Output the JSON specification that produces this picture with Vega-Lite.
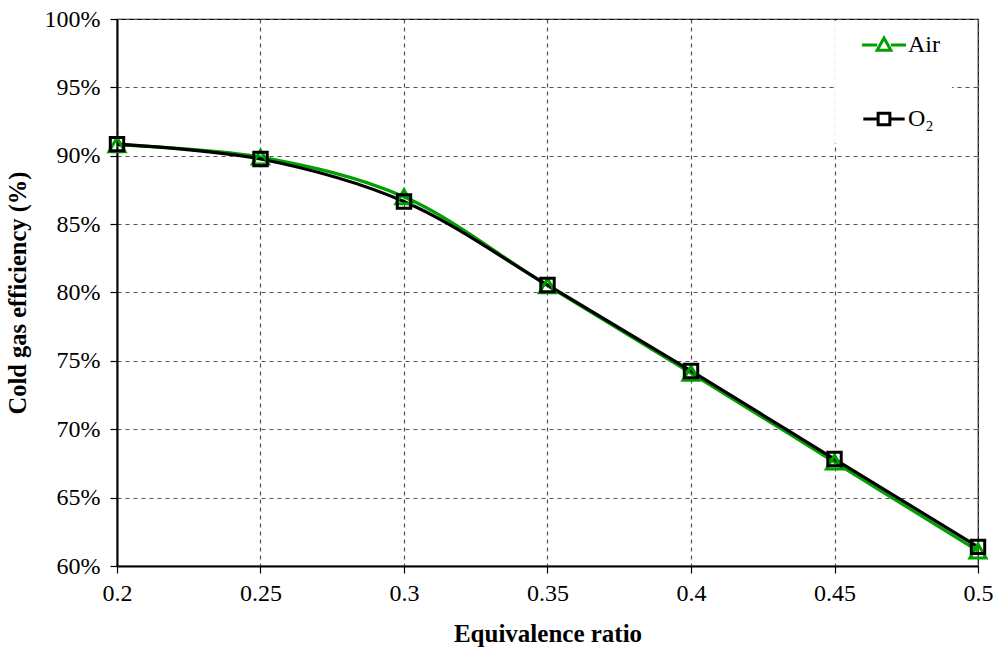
{
  "$schema": "https://vega.github.io/schema/vega-lite/v6.json",
  "width": 861,
  "height": 547,
  "autosize": {"type": "none"},
  "padding": {"left": 117, "top": 19, "right": 17, "bottom": 84},
  "background": "white",
  "config": {
    "font": "Liberation Serif",
    "view": {"stroke": "black", "strokeWidth": 1.2},
    "axis": {
      "labelFont": "Liberation Serif",
      "labelFontSize": 24,
      "labelColor": "black",
      "labelFlush": false,
      "titleFont": "Liberation Serif",
      "titleFontWeight": "bold",
      "titleColor": "black",
      "domainColor": "black",
      "domainWidth": 2,
      "tickColor": "black",
      "tickWidth": 1.2,
      "tickSize": 7,
      "gridColor": "#555555",
      "gridDash": [4, 4],
      "gridWidth": 1.2
    }
  },
  "data": {
    "values": [
      {"ratio": 0.2, "series": "Air", "eff": 0.908},
      {"ratio": 0.25, "series": "Air", "eff": 0.899},
      {"ratio": 0.3, "series": "Air", "eff": 0.870},
      {"ratio": 0.35, "series": "Air", "eff": 0.805},
      {"ratio": 0.4, "series": "Air", "eff": 0.741},
      {"ratio": 0.45, "series": "Air", "eff": 0.676},
      {"ratio": 0.5, "series": "Air", "eff": 0.611},
      {"ratio": 0.2, "series": "O₂", "eff": 0.9085},
      {"ratio": 0.25, "series": "O₂", "eff": 0.8976},
      {"ratio": 0.3, "series": "O₂", "eff": 0.8665},
      {"ratio": 0.35, "series": "O₂", "eff": 0.8055},
      {"ratio": 0.4, "series": "O₂", "eff": 0.7426},
      {"ratio": 0.45, "series": "O₂", "eff": 0.6782},
      {"ratio": 0.5, "series": "O₂", "eff": 0.614}
    ]
  },
  "encoding": {
    "x": {
      "field": "ratio",
      "type": "quantitative",
      "scale": {"domain": [0.2, 0.5], "nice": false, "zero": false},
      "axis": {
        "title": "Equivalence ratio",
        "titleFontSize": 25,
        "values": [0.2, 0.25, 0.3, 0.35, 0.4, 0.45, 0.5],
        "format": "~g",
        "labelPadding": 8,
        "titlePadding": 16
      }
    },
    "y": {
      "field": "eff",
      "type": "quantitative",
      "scale": {"domain": [0.6, 1.0], "nice": false, "zero": false},
      "axis": {
        "title": "Cold gas efficiency (%)",
        "titleFontSize": 24.5,
        "values": [0.6, 0.65, 0.7, 0.75, 0.8, 0.85, 0.9, 0.95, 1.0],
        "format": ".0%",
        "labelPadding": 10,
        "titlePadding": 14
      }
    },
    "color": {
      "field": "series",
      "type": "nominal",
      "scale": {"domain": ["Air", "O₂"], "range": ["#00a000", "#000000"]},
      "legend": {
        "title": null,
        "orient": "none",
        "legendX": 718,
        "legendY": 2,
        "fillColor": "white",
        "padding": 12,
        "rowPadding": 50,
        "symbolSize": 190,
        "symbolStrokeWidth": 3,
        "symbolFillColor": "white",
        "symbolOpacity": 1,
        "symbolOffset": 25,
        "labelOffset": 12,
        "labelFont": "Liberation Serif",
        "labelFontSize": 24,
        "labelColor": "black"
      }
    }
  },
  "layer": [
    {
      "mark": {"type": "line", "interpolate": "catmull-rom", "strokeWidth": 3.2},
      "encoding": {
        "order": {"field": "ratio"}
      }
    },
    {
      "transform": [{"filter": "datum.series === 'Air'"}],
      "mark": {"type": "point", "shape": "triangle-up", "size": 260, "filled": false, "strokeWidth": 3, "opacity": 1}
    },
    {
      "transform": [{"filter": "datum.series === 'O₂'"}],
      "mark": {"type": "point", "shape": "square", "size": 180, "filled": false, "strokeWidth": 3, "opacity": 1}
    },
    {
      "mark": {"type": "point", "filled": false, "opacity": 0},
      "encoding": {
        "shape": {
          "field": "series",
          "type": "nominal",
          "scale": {
            "domain": ["Air", "O₂"],
            "range": [
              "M-3.2,0H-1M1,0H3.2M0,-1L1,0.75L-1,0.75Z",
              "M-3,0H-0.85M0.85,0H3M-0.85,-0.85H0.85V0.85H-0.85Z"
            ]
          }
        }
      }
    }
  ]
}
